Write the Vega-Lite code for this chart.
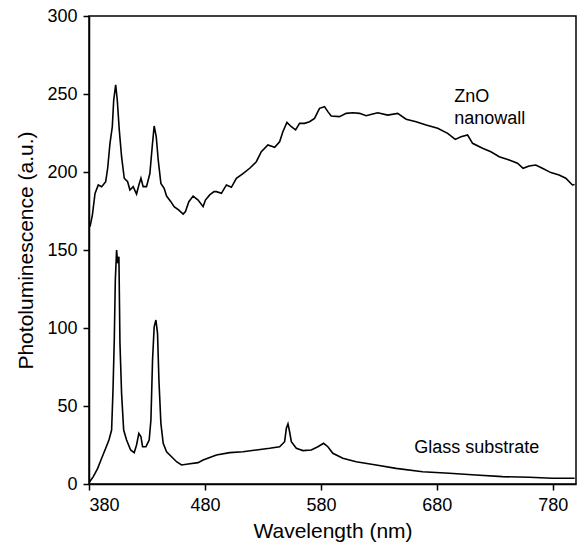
{
  "$schema": "https://vega.github.io/schema/vega-lite/v6.json",
  "width": 487,
  "height": 468,
  "autosize": {"type": "none"},
  "padding": {"left": 89, "top": 16, "right": 8, "bottom": 66},
  "background": "white",
  "config": {
    "view": {"stroke": "black", "strokeWidth": 1.5},
    "font": "Liberation Sans",
    "axis": {"grid": false, "domainColor": "black", "tickColor": "black", "labelColor": "black", "titleColor": "black", "labelFont": "Liberation Sans", "titleFont": "Liberation Sans", "titleFontWeight": "normal", "labelFontSize": 18, "titleFontSize": 21, "tickSize": 6, "domainWidth": 1.5, "tickWidth": 1.5}
  },
  "datasets": {
    "spectra": [
      {"series": "ZnO", "wavelength": 380.9, "intensity": 165},
      {"series": "ZnO", "wavelength": 382.9, "intensity": 172.4},
      {"series": "ZnO", "wavelength": 385.2, "intensity": 186.3},
      {"series": "ZnO", "wavelength": 388, "intensity": 191.7},
      {"series": "ZnO", "wavelength": 390.9, "intensity": 190.6},
      {"series": "ZnO", "wavelength": 394.4, "intensity": 193.8},
      {"series": "ZnO", "wavelength": 396.1, "intensity": 202.4},
      {"series": "ZnO", "wavelength": 398.1, "intensity": 218.4},
      {"series": "ZnO", "wavelength": 400.1, "intensity": 229},
      {"series": "ZnO", "wavelength": 401.3, "intensity": 246},
      {"series": "ZnO", "wavelength": 403, "intensity": 255.8},
      {"series": "ZnO", "wavelength": 404.4, "intensity": 246},
      {"series": "ZnO", "wavelength": 406.1, "intensity": 227},
      {"series": "ZnO", "wavelength": 408.1, "intensity": 209.8},
      {"series": "ZnO", "wavelength": 410.4, "intensity": 196},
      {"series": "ZnO", "wavelength": 413.3, "intensity": 193.8},
      {"series": "ZnO", "wavelength": 415.3, "intensity": 188.5},
      {"series": "ZnO", "wavelength": 418.1, "intensity": 190.6},
      {"series": "ZnO", "wavelength": 421, "intensity": 185.9},
      {"series": "ZnO", "wavelength": 423, "intensity": 191.7},
      {"series": "ZnO", "wavelength": 424.8, "intensity": 196},
      {"series": "ZnO", "wavelength": 426.7, "intensity": 190.6},
      {"series": "ZnO", "wavelength": 429.6, "intensity": 190.6},
      {"series": "ZnO", "wavelength": 432.5, "intensity": 199},
      {"series": "ZnO", "wavelength": 434.5, "intensity": 216.2},
      {"series": "ZnO", "wavelength": 436.2, "intensity": 229.5},
      {"series": "ZnO", "wavelength": 438, "intensity": 222.6},
      {"series": "ZnO", "wavelength": 439.7, "intensity": 207.7},
      {"series": "ZnO", "wavelength": 442, "intensity": 192.7},
      {"series": "ZnO", "wavelength": 444.8, "intensity": 189.5},
      {"series": "ZnO", "wavelength": 446.9, "intensity": 184.6},
      {"series": "ZnO", "wavelength": 450.6, "intensity": 181},
      {"series": "ZnO", "wavelength": 453.4, "intensity": 177.8},
      {"series": "ZnO", "wavelength": 457.5, "intensity": 175.6},
      {"series": "ZnO", "wavelength": 461.2, "intensity": 173},
      {"series": "ZnO", "wavelength": 463.2, "intensity": 174.6},
      {"series": "ZnO", "wavelength": 466.1, "intensity": 181},
      {"series": "ZnO", "wavelength": 469.8, "intensity": 184.6},
      {"series": "ZnO", "wavelength": 474.1, "intensity": 182},
      {"series": "ZnO", "wavelength": 478.4, "intensity": 177.8},
      {"series": "ZnO", "wavelength": 480.4, "intensity": 182},
      {"series": "ZnO", "wavelength": 484.1, "intensity": 185.3},
      {"series": "ZnO", "wavelength": 487.8, "intensity": 187.4},
      {"series": "ZnO", "wavelength": 489.9, "intensity": 187.4},
      {"series": "ZnO", "wavelength": 494.2, "intensity": 186.3},
      {"series": "ZnO", "wavelength": 498.5, "intensity": 191.7},
      {"series": "ZnO", "wavelength": 502.8, "intensity": 190.2},
      {"series": "ZnO", "wavelength": 507.1, "intensity": 196},
      {"series": "ZnO", "wavelength": 512.8, "intensity": 199},
      {"series": "ZnO", "wavelength": 518.6, "intensity": 202.4},
      {"series": "ZnO", "wavelength": 524.3, "intensity": 206.6},
      {"series": "ZnO", "wavelength": 528.6, "intensity": 213},
      {"series": "ZnO", "wavelength": 534.3, "intensity": 217.3},
      {"series": "ZnO", "wavelength": 540.1, "intensity": 215.8},
      {"series": "ZnO", "wavelength": 544.4, "intensity": 219.4},
      {"series": "ZnO", "wavelength": 547.2, "intensity": 225.8},
      {"series": "ZnO", "wavelength": 550.7, "intensity": 231.8},
      {"series": "ZnO", "wavelength": 554.5, "intensity": 229},
      {"series": "ZnO", "wavelength": 558.2, "intensity": 227},
      {"series": "ZnO", "wavelength": 561.6, "intensity": 231.2},
      {"series": "ZnO", "wavelength": 565.9, "intensity": 231.2},
      {"series": "ZnO", "wavelength": 570.2, "intensity": 232.2},
      {"series": "ZnO", "wavelength": 574.5, "intensity": 234.4},
      {"series": "ZnO", "wavelength": 578.8, "intensity": 240.8},
      {"series": "ZnO", "wavelength": 583.1, "intensity": 241.9},
      {"series": "ZnO", "wavelength": 586, "intensity": 238.7},
      {"series": "ZnO", "wavelength": 588.9, "intensity": 235.9},
      {"series": "ZnO", "wavelength": 596, "intensity": 235.5},
      {"series": "ZnO", "wavelength": 601.8, "intensity": 237.6},
      {"series": "ZnO", "wavelength": 607.5, "intensity": 238},
      {"series": "ZnO", "wavelength": 613.3, "intensity": 237.6},
      {"series": "ZnO", "wavelength": 619, "intensity": 236.1},
      {"series": "ZnO", "wavelength": 624.7, "intensity": 237.2},
      {"series": "ZnO", "wavelength": 629, "intensity": 238},
      {"series": "ZnO", "wavelength": 637.6, "intensity": 236.5},
      {"series": "ZnO", "wavelength": 646.2, "intensity": 237.6},
      {"series": "ZnO", "wavelength": 653.5, "intensity": 233.8},
      {"series": "ZnO", "wavelength": 662.1, "intensity": 232.2},
      {"series": "ZnO", "wavelength": 670.7, "intensity": 230.1},
      {"series": "ZnO", "wavelength": 680.7, "intensity": 228},
      {"series": "ZnO", "wavelength": 689.3, "intensity": 224.8},
      {"series": "ZnO", "wavelength": 695.9, "intensity": 220.9},
      {"series": "ZnO", "wavelength": 700.8, "intensity": 222.6},
      {"series": "ZnO", "wavelength": 706.5, "intensity": 223.7},
      {"series": "ZnO", "wavelength": 710.8, "intensity": 218.4},
      {"series": "ZnO", "wavelength": 719.4, "intensity": 215.2},
      {"series": "ZnO", "wavelength": 726.6, "intensity": 213},
      {"series": "ZnO", "wavelength": 733.8, "intensity": 209.8},
      {"series": "ZnO", "wavelength": 742.4, "intensity": 207.7},
      {"series": "ZnO", "wavelength": 749.5, "intensity": 205.6},
      {"series": "ZnO", "wavelength": 754.4, "intensity": 202.4},
      {"series": "ZnO", "wavelength": 759.6, "intensity": 203.8},
      {"series": "ZnO", "wavelength": 765.3, "intensity": 204.5},
      {"series": "ZnO", "wavelength": 771, "intensity": 202.4},
      {"series": "ZnO", "wavelength": 778.3, "intensity": 199.6},
      {"series": "ZnO", "wavelength": 785.4, "intensity": 198.1},
      {"series": "ZnO", "wavelength": 791.2, "intensity": 196},
      {"series": "ZnO", "wavelength": 796.9, "intensity": 191.7},
      {"series": "ZnO", "wavelength": 798.8, "intensity": 192},
      {"series": "Glass", "wavelength": 380, "intensity": 0.8},
      {"series": "Glass", "wavelength": 383.7, "intensity": 4.7},
      {"series": "Glass", "wavelength": 387.5, "intensity": 10},
      {"series": "Glass", "wavelength": 390.9, "intensity": 16.5},
      {"series": "Glass", "wavelength": 394.4, "intensity": 22.9},
      {"series": "Glass", "wavelength": 397.2, "intensity": 28.2},
      {"series": "Glass", "wavelength": 399.5, "intensity": 34.6},
      {"series": "Glass", "wavelength": 400.7, "intensity": 60.3},
      {"series": "Glass", "wavelength": 401.8, "intensity": 92.3},
      {"series": "Glass", "wavelength": 402.7, "intensity": 130.8},
      {"series": "Glass", "wavelength": 403.8, "intensity": 150},
      {"series": "Glass", "wavelength": 404.7, "intensity": 141.5},
      {"series": "Glass", "wavelength": 405.8, "intensity": 145.7},
      {"series": "Glass", "wavelength": 406.7, "intensity": 90.2},
      {"series": "Glass", "wavelength": 408.1, "intensity": 58.1},
      {"series": "Glass", "wavelength": 409.9, "intensity": 34.6},
      {"series": "Glass", "wavelength": 412.4, "intensity": 28.2},
      {"series": "Glass", "wavelength": 415.9, "intensity": 21.8},
      {"series": "Glass", "wavelength": 419, "intensity": 20.1},
      {"series": "Glass", "wavelength": 421, "intensity": 25},
      {"series": "Glass", "wavelength": 423, "intensity": 32.5},
      {"series": "Glass", "wavelength": 424.8, "intensity": 30.3},
      {"series": "Glass", "wavelength": 426.2, "intensity": 23.9},
      {"series": "Glass", "wavelength": 429.1, "intensity": 23.9},
      {"series": "Glass", "wavelength": 431.9, "intensity": 28.2},
      {"series": "Glass", "wavelength": 433.4, "intensity": 41},
      {"series": "Glass", "wavelength": 434.8, "intensity": 79.5},
      {"series": "Glass", "wavelength": 436.2, "intensity": 100.8},
      {"series": "Glass", "wavelength": 437.7, "intensity": 105.1},
      {"series": "Glass", "wavelength": 439.1, "intensity": 96.6},
      {"series": "Glass", "wavelength": 440.3, "intensity": 66.7},
      {"series": "Glass", "wavelength": 442, "intensity": 38.9},
      {"series": "Glass", "wavelength": 444, "intensity": 26.1},
      {"series": "Glass", "wavelength": 446.9, "intensity": 20.7},
      {"series": "Glass", "wavelength": 451.2, "intensity": 17.5},
      {"series": "Glass", "wavelength": 455.5, "intensity": 14.3},
      {"series": "Glass", "wavelength": 459.8, "intensity": 12.2},
      {"series": "Glass", "wavelength": 465.5, "intensity": 12.8},
      {"series": "Glass", "wavelength": 474.1, "intensity": 13.7},
      {"series": "Glass", "wavelength": 478.4, "intensity": 15.4},
      {"series": "Glass", "wavelength": 489.9, "intensity": 18.6},
      {"series": "Glass", "wavelength": 501.4, "intensity": 20.1},
      {"series": "Glass", "wavelength": 512.8, "intensity": 20.7},
      {"series": "Glass", "wavelength": 524.3, "intensity": 21.8},
      {"series": "Glass", "wavelength": 535.8, "intensity": 22.9},
      {"series": "Glass", "wavelength": 544.4, "intensity": 23.9},
      {"series": "Glass", "wavelength": 548.7, "intensity": 27.1},
      {"series": "Glass", "wavelength": 550.2, "intensity": 35.7},
      {"series": "Glass", "wavelength": 551.6, "intensity": 38.5},
      {"series": "Glass", "wavelength": 553, "intensity": 33.5},
      {"series": "Glass", "wavelength": 554.5, "intensity": 27.1},
      {"series": "Glass", "wavelength": 558.8, "intensity": 22.9},
      {"series": "Glass", "wavelength": 564.5, "intensity": 21.4},
      {"series": "Glass", "wavelength": 571.7, "intensity": 21.8},
      {"series": "Glass", "wavelength": 577.4, "intensity": 23.9},
      {"series": "Glass", "wavelength": 582.3, "intensity": 26.1},
      {"series": "Glass", "wavelength": 586, "intensity": 23.9},
      {"series": "Glass", "wavelength": 590.3, "intensity": 19.7},
      {"series": "Glass", "wavelength": 598.9, "intensity": 16.5},
      {"series": "Glass", "wavelength": 610.4, "intensity": 14.3},
      {"series": "Glass", "wavelength": 627.6, "intensity": 12.2},
      {"series": "Glass", "wavelength": 644.8, "intensity": 10},
      {"series": "Glass", "wavelength": 667.7, "intensity": 7.9},
      {"series": "Glass", "wavelength": 690.7, "intensity": 6.9},
      {"series": "Glass", "wavelength": 713.7, "intensity": 5.8},
      {"series": "Glass", "wavelength": 736.6, "intensity": 4.7},
      {"series": "Glass", "wavelength": 759.6, "intensity": 4.3},
      {"series": "Glass", "wavelength": 779.6, "intensity": 3.7},
      {"series": "Glass", "wavelength": 798.8, "intensity": 3.7}
    ],
    "labels": [
      {"label": "ZnO", "wavelength": 695, "intensity": 248},
      {"label": "nanowall", "wavelength": 695, "intensity": 234},
      {"label": "Glass substrate", "wavelength": 660.5, "intensity": 23}
    ]
  },
  "layer": [
    {
      "data": {"name": "spectra"},
      "mark": {"type": "line", "color": "black", "strokeWidth": 1.6, "interpolate": "linear", "clip": true},
      "encoding": {
        "x": {"field": "wavelength", "type": "quantitative", "scale": {"domain": [380, 800], "nice": false, "zero": false}, "axis": {"values": [380, 480, 580, 680, 780], "title": "Wavelength (nm)", "titlePadding": 6, "labelPadding": 6}},
        "y": {"field": "intensity", "type": "quantitative", "scale": {"domain": [0, 300], "nice": false}, "axis": {"values": [0, 50, 100, 150, 200, 250, 300], "title": "Photoluminescence (a.u.)", "titlePadding": 10, "labelPadding": 6}},
        "detail": {"field": "series", "type": "nominal"}
      }
    },
    {
      "data": {"name": "labels"},
      "mark": {"type": "text", "align": "left", "baseline": "middle", "fontSize": 18, "font": "Liberation Sans", "color": "black"},
      "encoding": {
        "x": {"field": "wavelength", "type": "quantitative"},
        "y": {"field": "intensity", "type": "quantitative"},
        "text": {"field": "label"}
      }
    }
  ]
}
